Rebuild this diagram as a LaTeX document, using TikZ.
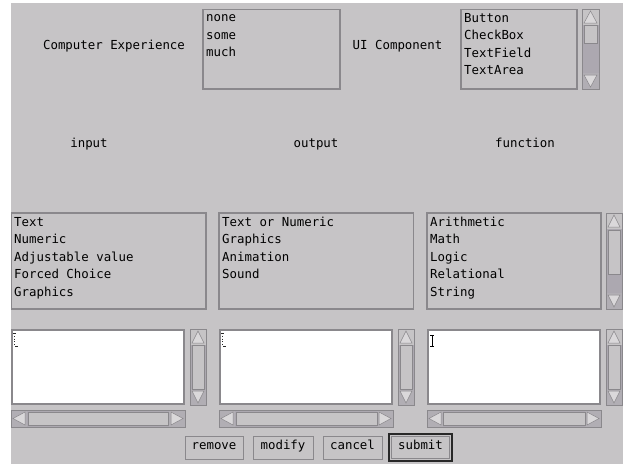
\documentclass[tikz,border=0pt]{standalone}
\usepackage{fontspec}
\newfontfamily\guifont{DejaVu Sans Mono}
\definecolor{guibg}{RGB}{198,196,198}
\definecolor{gdark}{RGB}{138,136,140}
\definecolor{gtrough}{RGB}{172,168,176}
\definecolor{glight}{RGB}{218,216,218}
\definecolor{gblack}{RGB}{40,40,40}
\tikzset{
  guitext/.style={font=\guifont\fontsize{12.4}{14}\selectfont, inner sep=0pt, text=black},
  itemtext/.style={guitext, anchor=base west},
  labeltext/.style={guitext, anchor=base},
  listbox/.style={draw=gdark, line width=1.2pt, fill=guibg},
  textarea/.style={draw=gdark, line width=1.4pt, fill=white},
  arrowbox/.style={fill=gtrough!80!guibg},
  tri/.style={fill=glight, draw=gdark, line width=0.5pt},
  thumb/.style={fill=guibg, draw=gdark, line width=1pt},
  sbframe/.style={draw=gdark, line width=1pt},
  btn/.style={draw=gdark, line width=1pt, fill=guibg},
}
% vertical scrollbar: x1,y1,x2,y2,thumbtop,thumbbottom
\newcommand\guivscroll[6]{%
  \fill[gtrough] (#1,#2) rectangle (#3,#4);
  \fill[guibg] (#1,#2) rectangle (#3,{#2+16});
  \draw[tri] ({#1+2},{#2+14}) -- ({(#1+#3)/2},{#2+2}) -- ({#3-2},{#2+14}) -- cycle;
  \fill[arrowbox] (#1,{#4-16}) rectangle (#3,#4);
  \draw[tri] ({#1+2},{#4-14}) -- ({(#1+#3)/2},{#4-2}) -- ({#3-2},{#4-14}) -- cycle;
  \draw[thumb] ({#1+2},#5) rectangle ({#3-2},#6);
  \draw[sbframe] (#1,#2) rectangle (#3,#4);
}
% horizontal scrollbar: x1,y1,x2,y2,thumbleft,thumbright
\newcommand\guihscroll[6]{%
  \fill[gtrough] (#1,#2) rectangle (#3,#4);
  \fill[arrowbox] (#1,#2) rectangle ({#1+16},#4);
  \draw[tri] ({#1+14},{#2+2}) -- ({#1+2},{(#2+#4)/2}) -- ({#1+14},{#4-2}) -- cycle;
  \fill[arrowbox] ({#3-16},#2) rectangle (#3,#4);
  \draw[tri] ({#3-14},{#2+2}) -- ({#3-2},{(#2+#4)/2}) -- ({#3-14},{#4-2}) -- cycle;
  \draw[thumb] (#5,{#2+2}) rectangle (#6,{#4-2});
  \draw[sbframe] (#1,#2) rectangle (#3,#4);
}
\begin{document}
\begin{tikzpicture}[x=1pt,y=-1pt]
\useasboundingbox (0,0) rectangle (623,464);
\fill[white] (0,0) rectangle (623,464);
\fill[guibg] (11,3) rectangle (623,464);

% ---- top row ----
\node[labeltext] (lblexp) at (114,49) {Computer Experience};
\draw[listbox] (203,9.5) rectangle (340,89);
\node[itemtext] (exp1) at (206,21.5) {none};
\node[itemtext] (exp2) at (206,39) {some};
\node[itemtext] (exp3) at (206,56.5) {much};

\node[labeltext] (lblui) at (397.5,49) {UI Component};
\draw[listbox] (461,9.5) rectangle (577,89);
\node[itemtext] (ui1) at (464,22) {Button};
\node[itemtext] (ui2) at (464,39.5) {CheckBox};
\node[itemtext] (ui3) at (464,57) {TextField};
\node[itemtext] (ui4) at (464,74.5) {TextArea};
\guivscroll{582}{9}{599}{89}{25}{43}

% ---- middle labels ----
\node[labeltext] (lblin) at (89,147) {input};
\node[labeltext] (lblout) at (316,147) {output};
\node[labeltext] (lblfn) at (525,147) {function};

% ---- middle lists ----
\draw[listbox] (11.5,213) rectangle (206,309);
\node[itemtext] (in1) at (14,226) {Text};
\node[itemtext] (in2) at (14,243.5) {Numeric};
\node[itemtext] (in3) at (14,261) {Adjustable value};
\node[itemtext] (in4) at (14,278.5) {Forced Choice};
\node[itemtext] (in5) at (14,296) {Graphics};

\draw[listbox] (219,213) rectangle (413.5,309);
\node[itemtext] (out1) at (222,226) {Text or Numeric};
\node[itemtext] (out2) at (222,243.5) {Graphics};
\node[itemtext] (out3) at (222,261) {Animation};
\node[itemtext] (out4) at (222,278.5) {Sound};

\draw[listbox] (427,213) rectangle (601,309);
\node[itemtext] (fn1) at (430,226) {Arithmetic};
\node[itemtext] (fn2) at (430,243.5) {Math};
\node[itemtext] (fn3) at (430,261) {Logic};
\node[itemtext] (fn4) at (430,278.5) {Relational};
\node[itemtext] (fn5) at (430,296) {String};
\guivscroll{606}{213}{622}{309}{230}{274}

% ---- text areas ----
\draw[textarea] (12,330) rectangle (184,404);
\guivscroll{190}{329}{206}{405}{345}{389}
\guihscroll{11}{410}{185}{427}{28}{168}
\draw[gblack, line width=0.8pt, dotted] (14.5,333) -- (14.5,346);
\draw[gblack, line width=0.6pt] (13,333) -- (16,333) (15,346) -- (18,346);

\draw[textarea] (220,330) rectangle (392,404);
\guivscroll{398}{329}{414}{405}{345}{389}
\guihscroll{219}{410}{393}{427}{236}{377}
\draw[gblack, line width=0.8pt, dotted] (222.5,333) -- (222.5,346);
\draw[gblack, line width=0.6pt] (221,333) -- (224,333) (223,346) -- (226,346);

\draw[textarea] (428,330) rectangle (600,404);
\guivscroll{606}{329}{622}{405}{345}{389}
\guihscroll{427}{410}{601}{427}{443}{585}
\draw[black, line width=0.9pt] (432,335) -- (432,346.5) (430,335) -- (434,335) (430,346.5) -- (434,346.5);

% ---- buttons ----
\draw[btn] (185,436) rectangle (243,459);
\node[labeltext] (bremove) at (214,449) {remove};
\draw[btn] (253,436) rectangle (313,459);
\node[labeltext] (bmodify) at (283,449) {modify};
\draw[btn] (323,436) rectangle (382,459);
\node[labeltext] (bcancel) at (352.5,449) {cancel};
\draw[gblack, line width=1.2pt, fill=guibg] (389,434) rectangle (452,461);
\draw[gdark, line width=0.8pt] (391.5,436.5) rectangle (449.5,458.5);
\node[labeltext] (bsubmit) at (420.5,449) {submit};
\end{tikzpicture}
\end{document}
